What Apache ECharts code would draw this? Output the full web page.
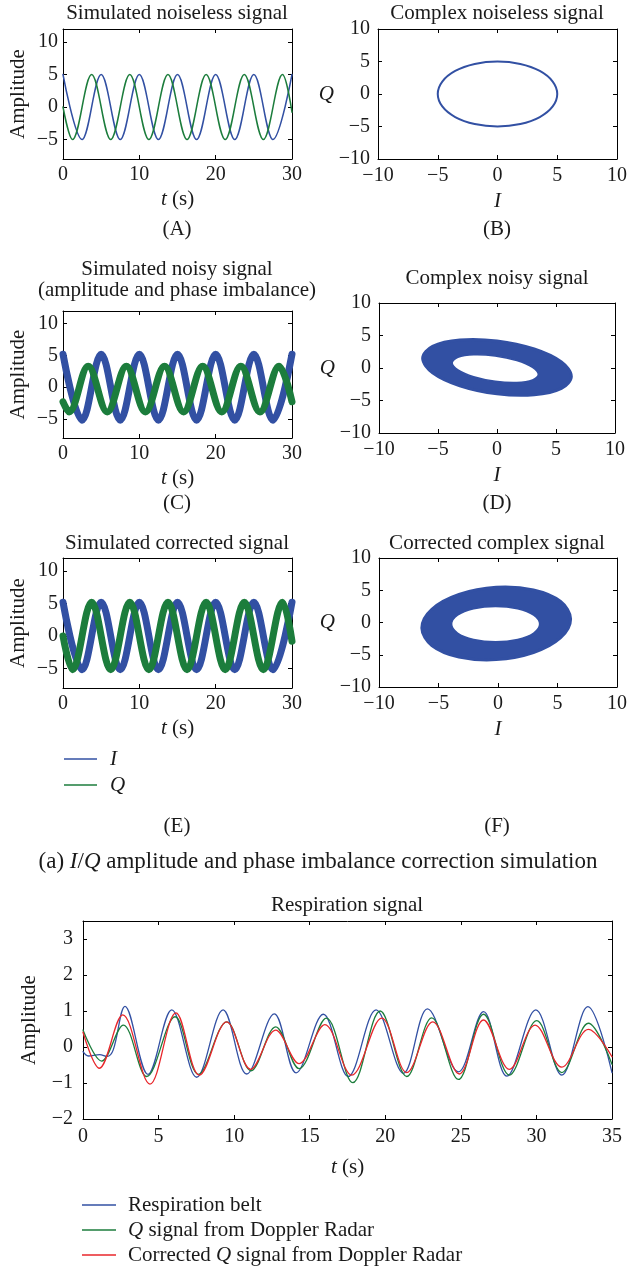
<!DOCTYPE html>
<html>
<head>
<meta charset="utf-8">
<title>I/Q imbalance correction</title>
<script src="https://cdn.jsdelivr.net/npm/echarts@6/dist/echarts.min.js"></script>
<style>
  html, body { margin: 0; padding: 0; background: #fff; }
  #chart { width: 634px; height: 1280px; }
</style>
</head>
<body>
<div id="chart"></div>
<script>
// ---- tick labels ----
const timeTicks = [0, 10, 20, 30];
const ampTicks = [-5, 0, 5, 10];
const iqTicks = [-10, -5, 0, 5, 10];
const respTimeTicks = [0, 5, 10, 15, 20, 25, 30, 35];
const respAmpTicks = [-2, -1, 0, 1, 2, 3];

// ---- (A) noiseless I/Q, peaks and troughs [t, amplitude] ----
const noiselessI = [[0,5],[2.5,-5],[5,5],[7.5,-5],[10,5],[12.5,-5],[15,5],[17.5,-5],[20,5],[22.5,-5],[25,5],[27.5,-5],[30,5]];
const noiselessQ = [[0,0],[1.25,-5],[3.75,5],[6.25,-5],[8.75,5],[11.25,-5],[13.75,5],[16.25,-5],[18.75,5],[21.25,-5],[23.75,5],[26.25,-5],[28.75,5],[30,-0.8]];

// ---- (B) noiseless constellation [I, Q] ----
const noiselessCircle = [[5,0],[4.62,1.91],[3.54,3.54],[1.91,4.62],[0,5],[-1.91,4.62],[-3.54,3.54],[-4.62,1.91],[-5,0],[-4.62,-1.91],[-3.54,-3.54],[-1.91,-4.62],[0,-5],[1.91,-4.62],[3.54,-3.54],[4.62,-1.91]];

// ---- (C) noisy signal with imbalance (band centre) ----
const noisyI = [[0,5.2],[2.5,-5.2],[5,5.2],[7.5,-5.2],[10,5.2],[12.5,-5.2],[15,5.2],[17.5,-5.2],[20,5.2],[22.5,-5.2],[25,5.2],[27.5,-5.2],[30,5.2]];
const noisyQ = [[0,-2.3],[0.8,-3.9],[3.3,3.3],[5.8,-3.9],[8.3,3.3],[10.8,-3.9],[13.3,3.3],[15.8,-3.9],[18.3,3.3],[20.8,-3.9],[23.3,3.3],[25.8,-3.9],[28.3,3.3],[30,-2.3]];

// ---- (D) noisy constellation: outer and inner edge of the ring ----
const noisyOuter = [[6.3,-1.29],[5.46,0.93],[3.15,2.93],[0,4.17],[-3.15,4.32],[-5.46,3.34],[-6.3,1.49],[-5.46,-0.73],[-3.15,-2.73],[0,-3.97],[3.15,-4.12],[5.46,-3.14]];
const noisyInner = [[3.5,-1.0],[3.01,0.1],[1.68,1.14],[-0.15,1.85],[-1.98,2.04],[-3.31,1.65],[-3.8,0.8],[-3.31,-0.3],[-1.98,-1.35],[-0.15,-2.05],[1.68,-2.24],[3.01,-1.85]];

// ---- (E) corrected signal (band centre) ----
const correctedI = [[0,5.2],[2.5,-5.2],[5,5.2],[7.5,-5.2],[10,5.2],[12.5,-5.2],[15,5.2],[17.5,-5.2],[20,5.2],[22.5,-5.2],[25,5.2],[27.5,-5.2],[30,5.2]];
const correctedQ = [[0,0],[1.25,-5.2],[3.75,5.2],[6.25,-5.2],[8.75,5.2],[11.25,-5.2],[13.75,5.2],[16.25,-5.2],[18.75,5.2],[21.25,-5.2],[23.75,5.2],[26.25,-5.2],[28.75,5.2],[30,-0.8]];

// ---- (F) corrected constellation ----
const correctedOuter = [[6.1,0.55],[5.26,3.26],[2.98,5.05],[-0.15,5.46],[-3.28,4.35],[-5.56,2.05],[-6.4,-0.85],[-5.56,-3.56],[-3.28,-5.35],[-0.15,-5.75],[2.98,-4.65],[5.26,-2.35]];
const correctedInner = [[3.5,-0.25],[3.0,1.13],[1.65,2.13],[-0.2,2.5],[-2.05,2.13],[-3.4,1.13],[-3.9,-0.25],[-3.4,-1.63],[-2.05,-2.63],[-0.2,-3.0],[1.65,-2.63],[3.0,-1.63]];

// ---- respiration signal [t (s), amplitude] ----
const beltSignal = [[0,-0.13],[0.35,-0.25],[1.1,-0.21],[1.6,-0.26],[2.0,-0.08],[2.78,1.13],[4.3,-0.76],[5.87,1.03],[7.52,-0.84],[9.27,1.03],[10.83,-0.75],[12.66,0.92],[14.1,-0.72],[15.9,0.91],[17.55,-0.82],[19.39,1.03],[21.2,-0.73],[22.79,1.06],[24.84,-0.69],[26.5,0.98],[28.04,-0.81],[29.96,1.03],[31.68,-0.78],[33.4,1.12],[35,-0.71]];
const radarQ = [[0,0.47],[1.23,-0.39],[2.67,0.61],[4.21,-0.82],[6.09,0.84],[7.63,-0.76],[9.51,0.7],[11.12,-0.66],[12.75,0.56],[14.3,-0.6],[16.1,0.8],[17.85,-0.99],[19.66,1.0],[21.42,-0.82],[23.07,0.81],[24.84,-0.9],[26.5,0.91],[28.21,-0.78],[30.02,0.73],[31.68,-0.71],[33.44,0.66],[35,-0.48]];
const radarQCorrected = [[0,0.41],[1.08,-0.59],[2.63,0.89],[4.43,-1.03],[6.15,0.95],[7.7,-0.78],[9.51,0.7],[11.1,-0.62],[12.75,0.47],[14.3,-0.46],[16.0,0.62],[17.78,-0.78],[19.77,0.8],[21.42,-0.71],[23.14,0.7],[24.9,-0.75],[26.5,0.75],[28.21,-0.62],[29.91,0.61],[31.68,-0.56],[33.44,0.49],[35,-0.27]];

const FONT = '"Liberation Serif", "Times New Roman", serif';
const INK = '#1a1a1a';
const BLUE = '#3250a3';
const GREEN = '#1c7d3c';
const RED = '#e8262b';
const TICK_FS = 20;
const FS = 21;

function italic(size) {
  return { it: { fontStyle: 'italic', fontFamily: FONT, fontSize: size, color: INK } };
}
function minus(v) { return v < 0 ? '\u2212' + (-v) : String(v); }

const xAxes = [];
const yAxes = [];

// one boxed panel: bottom/left axes with labels, top/right axes only with ticks
function addBox(gi, xr, xVals, yr, yVals, opt) {
  const line = { onZero: false, lineStyle: { color: '#000', width: 1 } };
  const tickX = { inside: true, length: 4, customValues: xVals, lineStyle: { color: '#000' } };
  const tickY = { inside: true, length: 4, customValues: yVals, lineStyle: { color: '#000' } };
  const lab = { fontFamily: FONT, fontSize: TICK_FS, color: INK, formatter: minus };
  const nameStyle = { fontFamily: FONT, fontSize: FS, color: INK, rich: italic(FS) };
  xAxes.push({
    gridIndex: gi, type: 'value', position: 'bottom', min: xr[0], max: xr[1],
    axisLine: line, axisTick: tickX, splitLine: { show: false },
    axisLabel: Object.assign({ customValues: xVals, margin: opt.xMargin }, lab),
    name: opt.xName, nameLocation: 'middle', nameGap: opt.xGap, nameTextStyle: nameStyle
  });
  xAxes.push({
    gridIndex: gi, type: 'value', position: 'top', min: xr[0], max: xr[1],
    axisLine: line, axisTick: tickX, axisLabel: { show: false }, splitLine: { show: false }
  });
  yAxes.push({
    gridIndex: gi, type: 'value', position: 'left', min: yr[0], max: yr[1],
    axisLine: line, axisTick: tickY, splitLine: { show: false },
    axisLabel: Object.assign({ customValues: yVals, margin: opt.yMargin }, lab),
    name: opt.yName, nameLocation: 'middle', nameGap: opt.yGap, nameRotate: opt.yRotate,
    nameTextStyle: nameStyle
  });
  yAxes.push({
    gridIndex: gi, type: 'value', position: 'right', min: yr[0], max: yr[1],
    axisLine: line, axisTick: tickY, axisLabel: { show: false }, splitLine: { show: false }
  });
}

const timeOpt = { xName: '{it|t} (s)', xGap: 30, xMargin: 6, yName: 'Amplitude', yGap: 34, yMargin: 5, yRotate: 90 };
const iqOpt = { xName: '{it|I}', xGap: 32, xMargin: 7, yName: '{it|Q}', yGap: 44, yMargin: 8, yRotate: 0 };

addBox(0, [0, 30], timeTicks, [-8, 12], ampTicks, timeOpt);
addBox(1, [-10, 10], iqTicks, [-10, 10], iqTicks, iqOpt);
addBox(2, [0, 30], timeTicks, [-8, 12], ampTicks, timeOpt);
addBox(3, [-10, 10], iqTicks, [-10, 10], iqTicks, iqOpt);
addBox(4, [0, 30], timeTicks, [-8, 12], ampTicks, timeOpt);
addBox(5, [-10, 10], iqTicks, [-10, 10], iqTicks, iqOpt);
addBox(6, [0, 35], respTimeTicks, [-2, 3.5], respAmpTicks,
  { xName: '{it|t} (s)', xGap: 38, xMargin: 8, yName: 'Amplitude', yGap: 43, yMargin: 10, yRotate: 90 });

function lineSeries(name, gi, data, color, width) {
  return {
    type: 'line', name: name, xAxisIndex: 2 * gi, yAxisIndex: 2 * gi, data: data,
    symbol: 'none', smooth: 0.36, clip: true, silent: true, animation: false,
    lineStyle: { color: color, width: width, cap: 'round', join: 'round' },
    itemStyle: { color: color }
  };
}

function shapeSeries(gi, pts, fill, stroke, width) {
  return {
    type: 'custom', xAxisIndex: 2 * gi, yAxisIndex: 2 * gi, data: pts,
    clip: true, silent: true, animation: false,
    renderItem: function (params, api) {
      if (params.dataIndex !== 0) return null;
      return {
        type: 'polygon',
        shape: { points: pts.map(p => api.coord(p)), smooth: 0.35 },
        style: { fill: fill, stroke: stroke, lineWidth: width }
      };
    }
  };
}

const series = [
  lineSeries('I', 0, noiselessI, BLUE, 1.5),
  lineSeries('Q', 0, noiselessQ, GREEN, 1.5),
  shapeSeries(1, noiselessCircle, 'none', BLUE, 2),
  lineSeries('I', 2, noisyI, BLUE, 7),
  lineSeries('Q', 2, noisyQ, GREEN, 7),
  shapeSeries(3, noisyOuter, BLUE, BLUE, 3),
  shapeSeries(3, noisyInner, '#fff', BLUE, 1.5),
  lineSeries('I', 4, correctedI, BLUE, 7),
  lineSeries('Q', 4, correctedQ, GREEN, 7),
  shapeSeries(5, correctedOuter, BLUE, BLUE, 3),
  shapeSeries(5, correctedInner, '#fff', BLUE, 1.5),
  lineSeries('Respiration belt', 6, beltSignal, BLUE, 1.3),
  lineSeries('Q signal from Doppler Radar', 6, radarQ, GREEN, 1.3),
  lineSeries('Corrected Q signal from Doppler Radar', 6, radarQCorrected, RED, 1.3)
];

function label(text, x, y, size) {
  size = size || FS;
  return {
    type: 'text', x: x, y: y, silent: true,
    style: {
      text: text, align: 'center', verticalAlign: 'middle', lineHeight: 21,
      fontFamily: FONT, fontSize: size, fill: INK, rich: italic(size)
    }
  };
}

const legendText = {
  fontFamily: FONT, fontSize: FS, color: INK, lineHeight: 22, rich: italic(FS)
};

const chart = echarts.init(document.getElementById('chart'), null, { renderer: 'canvas' });
chart.setOption({
  backgroundColor: '#fff',
  animation: false,
  grid: [
    { left: 63, top: 29, width: 229, height: 130 },
    { left: 378, top: 29, width: 239, height: 130 },
    { left: 63, top: 311, width: 229, height: 127 },
    { left: 379, top: 303, width: 236, height: 130 },
    { left: 63, top: 558, width: 229, height: 130 },
    { left: 379, top: 558, width: 238, height: 129 },
    { left: 83, top: 921, width: 529, height: 198 }
  ],
  xAxis: xAxes,
  yAxis: yAxes,
  series: series,
  legend: [
    {
      data: ['I', 'Q'], orient: 'vertical', left: 64, top: 748, padding: 0,
      icon: 'rect', itemWidth: 33, itemHeight: 1.3, itemGap: 4, selectedMode: false,
      textStyle: Object.assign({ padding: [0, 0, 0, 8] }, legendText),
      formatter: name => '{it|' + name + '}'
    },
    {
      data: ['Respiration belt', 'Q signal from Doppler Radar', 'Corrected Q signal from Doppler Radar'],
      orient: 'vertical', left: 82, top: 1194, padding: 0,
      icon: 'rect', itemWidth: 34, itemHeight: 1.3, itemGap: 3, selectedMode: false,
      textStyle: Object.assign({ padding: [0, 0, 0, 7] }, legendText),
      formatter: name => name.replace('Q signal', '{it|Q} signal')
    }
  ],
  graphic: [
    label('Simulated noiseless signal', 177, 13),
    label('Complex noiseless signal', 497, 13),
    label('Simulated noisy signal\n(amplitude and phase imbalance)', 177, 280),
    label('Complex noisy signal', 497, 278),
    label('Simulated corrected signal', 177, 543),
    label('Corrected complex signal', 497, 543),
    label('Respiration signal', 347, 905),
    label('(A)', 177, 229),
    label('(B)', 497, 229),
    label('(C)', 177, 503),
    label('(D)', 497, 503),
    label('(E)', 177, 826),
    label('(F)', 497, 826),
    label('(a) {it|I}/{it|Q} amplitude and phase imbalance correction simulation', 318, 862, 23)
  ]
});
</script>
</body>
</html>
